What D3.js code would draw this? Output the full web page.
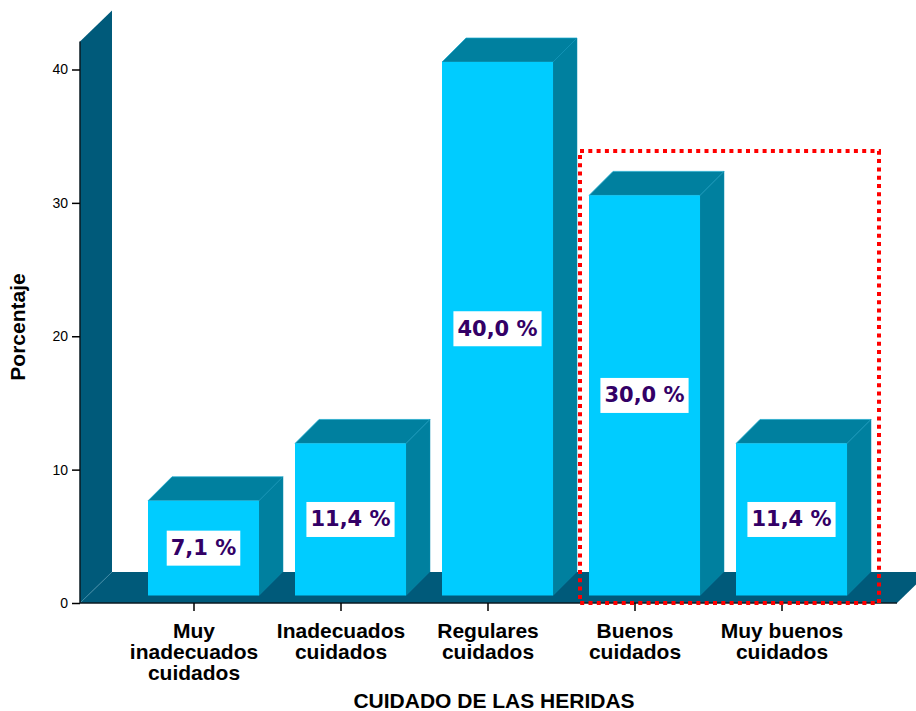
<!DOCTYPE html>
<html>
<head>
<meta charset="utf-8">
<script src="https://cdn.jsdelivr.net/npm/d3@7/dist/d3.min.js"></script>
<style>
  html, body { margin: 0; padding: 0; background: #ffffff; }
  svg { display: block; }
</style>
</head>
<body>
<svg id="chart" width="916" height="711"></svg>
<script>
// Data
const categories = [
  ["Muy", "inadecuados", "cuidados"],
  ["Inadecuados", "cuidados"],
  ["Regulares", "cuidados"],
  ["Buenos", "cuidados"],
  ["Muy buenos", "cuidados"]
];
const percentages = [7.1, 11.4, 40.0, 30.0, 11.4];
const yTicks = [0, 10, 20, 30, 40];
const yTitle = "Porcentaje";
const xTitle = "CUIDADO DE LAS HERIDAS";

const svg = d3.select("#chart");

// Colours
const frontColor = "#00ccff";
const sideColor = "#00809f";
const wallColor = "#005a7a";
const labelColor = "#330066";

// Plot frame
const x0 = 80, xEnd = 897;
const wallDepth = 32, barDepth = 24, barLift = 7.5;
const y = d3.scaleLinear().domain([0, 40]).range([603, 69.5]);
const keys = categories.map((c, i) => i);
const x = d3.scaleBand().domain(keys).range([120.5, 855.5]).padding(0);
const barW = 111;
const barOffset = 9.5; // front face is shifted right of the tick
const wallTop = 42.1;

const fmt = v => d3.format(".1f")(v).replace(".", ",") + " %";

// Back wall
svg.append("path")
  .attr("d", d3.line()([
    [x0, y(0)], [x0, y(wallTop)], [x0 + wallDepth, y(wallTop) - wallDepth + 1],
    [x0 + wallDepth, y(0) - wallDepth + 1]
  ]) + "Z")
  .attr("fill", wallColor);

// Floor
svg.append("path")
  .attr("d", d3.line()([
    [x0, y(0)], [xEnd, y(0)], [xEnd + wallDepth, y(0) - wallDepth + 1],
    [x0 + wallDepth, y(0) - wallDepth + 1]
  ]) + "Z")
  .attr("fill", wallColor);

// Wall/floor seam
svg.append("line")
  .attr("x1", x0).attr("y1", y(0))
  .attr("x2", x0 + wallDepth).attr("y2", y(0) - wallDepth + 1)
  .attr("stroke", "#3f8aa6").attr("stroke-width", 0.8);

// Axis lines
svg.append("line")
  .attr("x1", x0).attr("y1", y(0)).attr("x2", x0).attr("y2", y(wallTop))
  .attr("stroke", "#0a1a22").attr("stroke-width", 1.5);
svg.append("line")
  .attr("x1", x0).attr("y1", y(0)).attr("x2", xEnd).attr("y2", y(0))
  .attr("stroke", "#0a1a22").attr("stroke-width", 1.5);

// Y axis ticks and labels
const yAxis = d3.axisLeft(y).tickValues(yTicks).tickSize(8).tickPadding(4);
const gy = svg.append("g").attr("transform", `translate(${x0},0)`).call(yAxis);
gy.select(".domain").remove();
gy.selectAll(".tick line").attr("stroke", "#000").attr("stroke-width", 1.5);
gy.selectAll(".tick text")
  .attr("font-family", "'Liberation Sans', Arial, sans-serif")
  .attr("font-size", 14).attr("fill", "#000");

// X axis ticks
svg.append("g").selectAll("line").data(keys).join("line")
  .attr("x1", d => x(d) + x.bandwidth() / 2)
  .attr("x2", d => x(d) + x.bandwidth() / 2)
  .attr("y1", y(0)).attr("y2", y(0) + 8)
  .attr("stroke", "#000").attr("stroke-width", 1.5);

// Bars
const bars = svg.append("g").selectAll("g").data(keys).join("g");
const bx = d => x(d) + x.bandwidth() / 2 + barOffset - barW / 2;
const by = d => y(percentages[d]) - barLift;
const bb = y(0) - barLift;

// top face
bars.append("path")
  .attr("d", d => d3.line()([
    [bx(d), by(d)], [bx(d) + barDepth, by(d) - barDepth],
    [bx(d) + barW + barDepth, by(d) - barDepth], [bx(d) + barW, by(d)]
  ]) + "Z")
  .attr("fill", sideColor)
  .attr("stroke", "#15a9cf").attr("stroke-width", 0.7);
// side face
bars.append("path")
  .attr("d", d => d3.line()([
    [bx(d) + barW, by(d)], [bx(d) + barW + barDepth, by(d) - barDepth],
    [bx(d) + barW + barDepth, bb - barDepth], [bx(d) + barW, bb]
  ]) + "Z")
  .attr("fill", sideColor)
  .attr("stroke", "#0a8cb0").attr("stroke-width", 0.5);
// front face
bars.append("rect")
  .attr("x", bx).attr("y", by)
  .attr("width", barW).attr("height", d => bb - by(d))
  .attr("fill", frontColor);

// Value labels
bars.each(function(d) {
  const g = d3.select(this);
  const cx = bx(d) + barW / 2;
  const cy = (by(d) + bb) / 2;
  const t = g.append("text")
    .attr("x", cx).attr("y", cy)
    .attr("text-anchor", "middle").attr("dominant-baseline", "central")
    .attr("font-family", "'DejaVu Sans', Verdana, sans-serif")
    .attr("font-weight", "bold").attr("font-size", 21)
    .attr("fill", labelColor)
    .text(fmt(percentages[d]));
  const w = t.node().getComputedTextLength();
  g.insert("rect", "text")
    .attr("x", cx - w / 2 - 4).attr("y", cy - 17.5)
    .attr("width", w + 8).attr("height", 35)
    .attr("fill", "#ffffff");
});

// Highlight frame around the two best categories
svg.append("rect")
  .attr("x", 580).attr("y", 151)
  .attr("width", 299).attr("height", 452)
  .attr("fill", "none")
  .attr("stroke", "#ff0000").attr("stroke-width", 4)
  .attr("stroke-dasharray", "4,4.3");

// Category labels
const cat = svg.append("g").selectAll("text").data(keys).join("text")
  .attr("x", d => x(d) + x.bandwidth() / 2)
  .attr("y", 638)
  .attr("text-anchor", "middle")
  .attr("font-family", "'Liberation Sans', Arial, sans-serif")
  .attr("font-weight", "bold").attr("font-size", 21)
  .attr("fill", "#000");
cat.selectAll("tspan").data(d => categories[d]).join("tspan")
  .attr("x", function() { return d3.select(this.parentNode).attr("x"); })
  .attr("dy", (t, i) => i === 0 ? 0 : 21)
  .text(t => t);

// Axis titles
svg.append("text")
  .attr("x", 494).attr("y", 708)
  .attr("text-anchor", "middle")
  .attr("font-family", "'Liberation Sans', Arial, sans-serif")
  .attr("font-weight", "bold").attr("font-size", 21)
  .attr("fill", "#000")
  .text(xTitle);

svg.append("text")
  .attr("transform", "translate(25,327) rotate(-90)")
  .attr("text-anchor", "middle")
  .attr("font-family", "'Liberation Sans', Arial, sans-serif")
  .attr("font-weight", "bold").attr("font-size", 21)
  .attr("fill", "#000")
  .text(yTitle);
</script>
</body>
</html>
